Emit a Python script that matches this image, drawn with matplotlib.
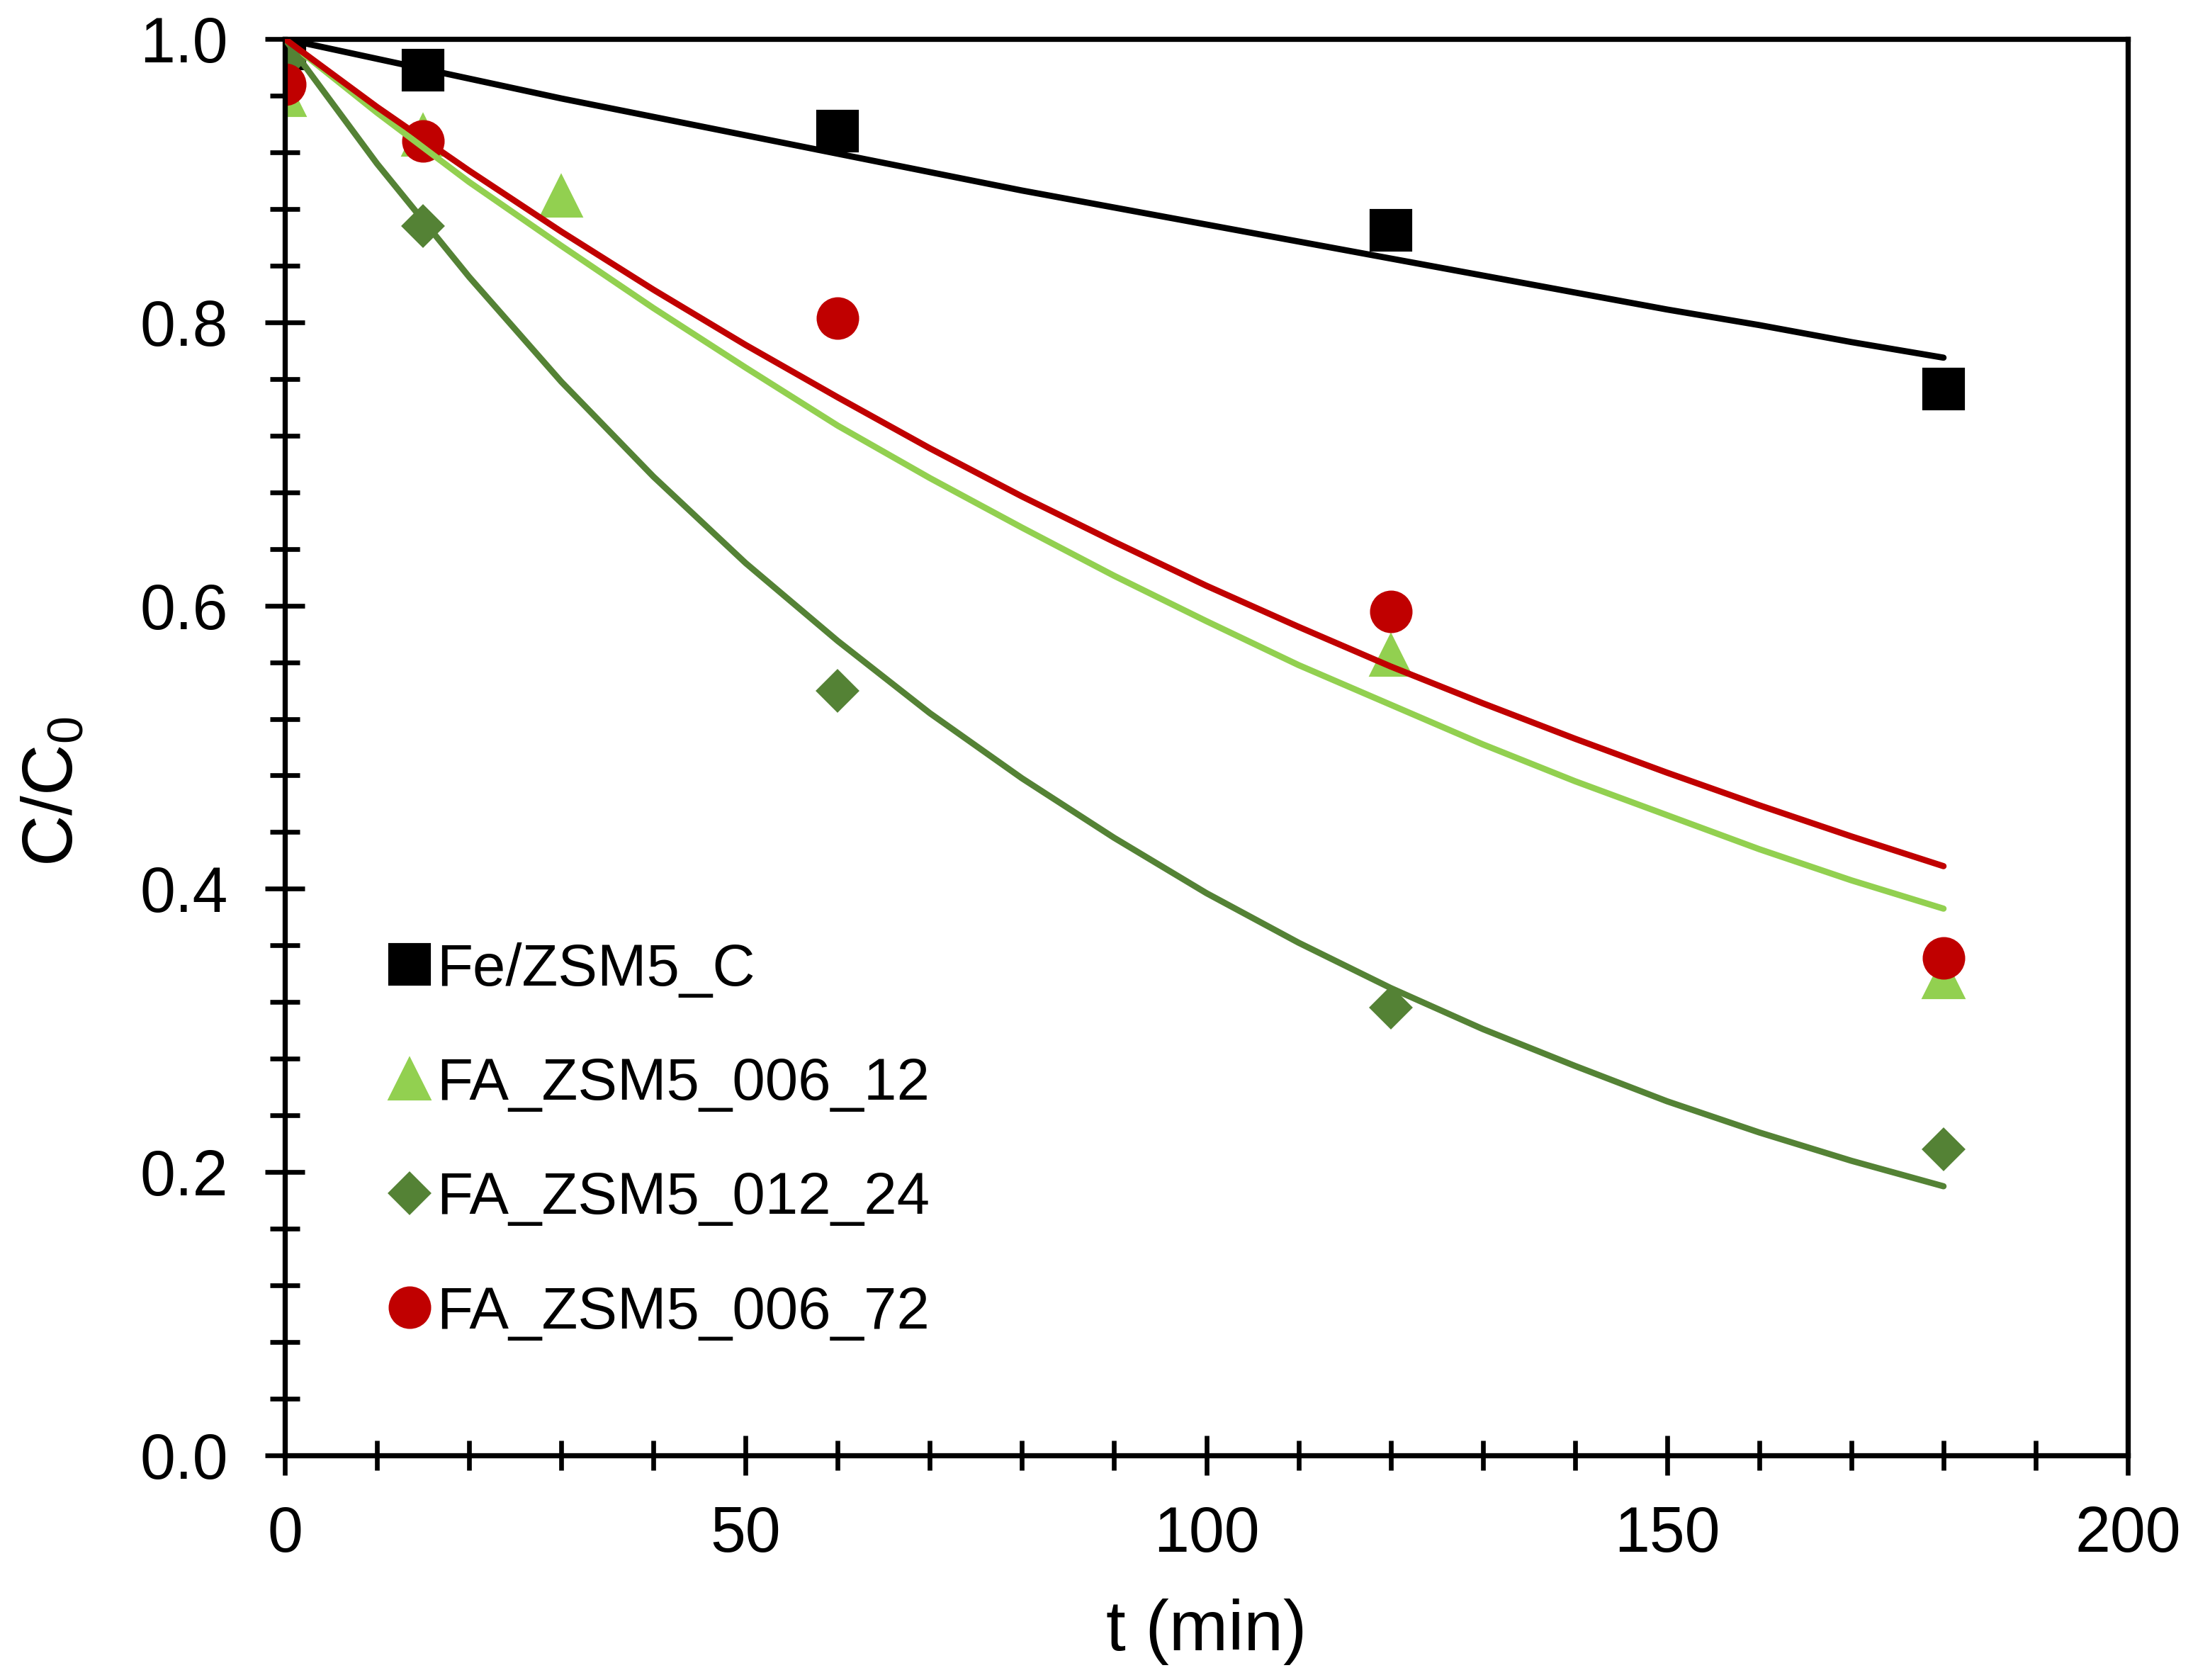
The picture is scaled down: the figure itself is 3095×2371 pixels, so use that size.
import matplotlib
matplotlib.use("Agg")
import matplotlib.pyplot as plt
from matplotlib.ticker import MultipleLocator, FormatStrFormatter
from matplotlib.lines import Line2D

plt.rcParams['font.family'] = ['Liberation Sans', 'DejaVu Sans']
plt.rcParams['mathtext.fontset'] = 'custom'
plt.rcParams['mathtext.rm'] = 'Liberation Sans'
plt.rcParams['mathtext.it'] = 'Liberation Sans:italic'
plt.rcParams['mathtext.default'] = 'regular'

# ---- data ----
series_names = ["Fe/ZSM5_C", "FA_ZSM5_006_12", "FA_ZSM5_012_24", "FA_ZSM5_006_72"]

t_fe = [0, 15, 60, 120, 180]
c_fe = [0.993, 0.978, 0.935, 0.865, 0.753]

t_006_12 = [0, 15, 30, 120, 180]
c_006_12 = [0.960, 0.932, 0.889, 0.565, 0.337]

t_012_24 = [0, 15, 60, 120, 180]
c_012_24 = [0.985, 0.868, 0.540, 0.316, 0.216]

t_006_72 = [0, 15, 60, 120, 180]
c_006_72 = [0.968, 0.928, 0.803, 0.596, 0.351]

# fitted model curves, every 10 min
t_fit = [0, 10, 20, 30, 40, 50, 60, 70, 80, 90, 100, 110, 120, 130, 140, 150, 160, 170, 180]
fit_fe = [1.000, 0.986, 0.972, 0.958, 0.945, 0.932, 0.919, 0.906, 0.893, 0.881,
          0.869, 0.857, 0.845, 0.833, 0.821, 0.809, 0.798, 0.786, 0.775]
fit_006_12 = [1.000, 0.948, 0.899, 0.854, 0.810, 0.768, 0.727, 0.690, 0.655, 0.621,
              0.589, 0.558, 0.530, 0.502, 0.476, 0.452, 0.428, 0.406, 0.386]
fit_012_24 = [1.000, 0.912, 0.832, 0.758, 0.691, 0.630, 0.575, 0.524, 0.478, 0.436,
              0.397, 0.362, 0.330, 0.301, 0.275, 0.250, 0.228, 0.208, 0.190]
fit_006_72 = [1.000, 0.952, 0.907, 0.864, 0.823, 0.784, 0.747, 0.711, 0.677, 0.645,
              0.614, 0.585, 0.557, 0.531, 0.506, 0.482, 0.459, 0.437, 0.416]

x_ticks = [0, 50, 100, 150, 200]
y_ticks = [0.0, 0.2, 0.4, 0.6, 0.8, 1.0]

# ---- style ----
col_fe = "#000000"
col_12 = "#92D050"
col_24 = "#548235"
col_72 = "#C00000"

fig = plt.figure(figsize=(3095 / 300, 2371 / 300), dpi=300)
ax = fig.add_axes([402 / 3095, 317 / 2371, 2601 / 3095, 1999 / 2371])

ms = 13.4
lw = 2.1

# markers
ax.plot(t_fe, c_fe, linestyle="none", marker="s", ms=ms, color=col_fe, zorder=2)
ax.plot(t_006_12, c_006_12, linestyle="none", marker="^", ms=ms, color=col_12, zorder=2)
ax.plot(t_012_24, c_012_24, linestyle="none", marker="D", ms=9.5, color=col_24, zorder=2)
ax.plot(t_006_72, c_006_72, linestyle="none", marker="o", ms=ms, color=col_72, zorder=2)

# fitted curves
for vals, col in [(fit_fe, col_fe), (fit_006_12, col_12), (fit_012_24, col_24), (fit_006_72, col_72)]:
    ax.plot(t_fit, vals, color=col, lw=lw, zorder=3,
            solid_capstyle="round", solid_joinstyle="round")

ax.set_xlim(0, 200)
ax.set_ylim(0, 1.0)
ax.set_xticks(x_ticks)
ax.set_yticks(y_ticks)
ax.xaxis.set_minor_locator(MultipleLocator(10))
ax.yaxis.set_minor_locator(MultipleLocator(0.04))
ax.yaxis.set_major_formatter(FormatStrFormatter("%.1f"))

for s in ax.spines.values():
    s.set_linewidth(1.75)
    s.set_color("black")

ax.tick_params(axis="both", which="both", direction="inout", top=False, right=False,
               width=1.6, color="black")
ax.tick_params(axis="both", which="major", length=13.4, labelsize=21.5)
ax.tick_params(axis="both", which="minor", length=10.3)
ax.tick_params(axis="x", which="major", pad=10)
ax.tick_params(axis="y", which="major", pad=12.5)

ax.set_xlabel("t (min)", fontsize=24)
ax.set_ylabel("C/C$_0$", fontsize=24)
ax.xaxis.set_label_coords(0.5, (2054 - 2256) / 1999)
ax.yaxis.set_label_coords((124 - 402) / 2601, (2054 - 1117) / 1999)

handles = [
    Line2D([], [], linestyle="none", marker="s", ms=ms, color=col_fe),
    Line2D([], [], linestyle="none", marker="^", ms=ms, color=col_12),
    Line2D([], [], linestyle="none", marker="D", ms=9.5, color=col_24),
    Line2D([], [], linestyle="none", marker="o", ms=ms, color=col_72),
]
ax.legend(handles, series_names, loc="center left",
          bbox_to_anchor=((545 - 402) / 2601, (2054 - 1610.5) / 1999),
          frameon=False, fontsize=20, borderpad=0, borderaxespad=0,
          handlelength=0.8, handletextpad=0.05, labelspacing=1.0)

fig.savefig("out.png", dpi=300)
